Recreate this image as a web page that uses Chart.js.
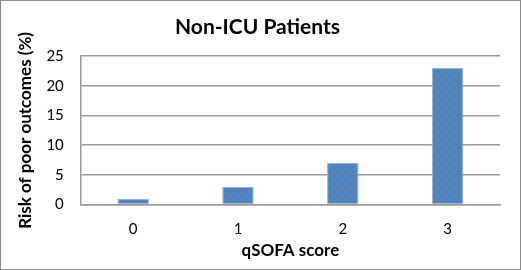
<!DOCTYPE html>
<html>
<head>
<meta charset="utf-8">
<script src="https://cdn.jsdelivr.net/npm/chart.js@4/dist/chart.umd.min.js"></script>
<style>
  body { margin: 0; background: #fff; }
  #wrap { width: 521px; height: 270px; box-sizing: border-box; border: 1px solid #8c8c8c; background: #fff; }
</style>
</head>
<body>
<div id="wrap"><canvas id="chart" width="519" height="268"></canvas></div>
<script>
// data
const SCORES = ['0', '1', '2', '3'];
const RISK = [1, 3, 7, 23];
const Y_TICKS = [0, 5, 10, 15, 20, 25];

const FONT = "Lato, 'Open Sans', sans-serif";

// sparse dotted fill like the original bars
function makePattern(ctx) {
    const p = document.createElement('canvas');
    p.width = 8; p.height = 8;
    const c = p.getContext('2d');
    c.fillStyle = '#4f86c2';
    c.fillRect(0, 0, 8, 8);
    c.fillStyle = 'rgba(110, 80, 60, 0.8)';
    c.fillRect(1, 2, 1, 1);
    c.fillRect(5, 6, 1, 1);
    return ctx.createPattern(p, 'repeat');
}

const ctx = document.getElementById('chart').getContext('2d');
new Chart(ctx, {
    type: 'bar',
    data: {
        labels: SCORES,
        datasets: [{
            data: RISK,
            backgroundColor: makePattern(ctx),
            borderColor: '#8fb3dc',
            borderWidth: 1,
            barPercentage: 0.3,
            categoryPercentage: 1
        }]
    },
    options: {
        responsive: false,
        animation: false,
        layout: { padding: { left: 14, right: 20, top: 4, bottom: 8 } },
        plugins: {
            legend: { display: false },
            tooltip: { enabled: false },
            title: {
                display: true,
                text: 'Non-ICU Patients',
                color: '#000',
                font: { family: FONT, size: 21, weight: 'bold' },
                padding: { top: 10, bottom: 16 }
            }
        },
        scales: {
            x: {
                grid: { display: false, drawTicks: false },
                border: { display: true, color: '#999', width: 1.5 },
                ticks: { color: '#000', font: { family: FONT, size: 15 }, padding: 16 },
                title: {
                    display: true,
                    text: 'qSOFA score',
                    color: '#000',
                    font: { family: FONT, size: 17, weight: 'bold' },
                    padding: { top: -14, bottom: 0 }
                }
            },
            y: {
                min: 0,
                max: 25,
                afterBuildTicks: axis => { axis.ticks = Y_TICKS.map(v => ({ value: v })); },
                grid: { color: '#999', lineWidth: 1.5, drawTicks: false },
                border: { display: true, color: '#999', width: 1.5 },
                ticks: { color: '#000', font: { family: FONT, size: 15 }, padding: 17 },
                title: {
                    display: true,
                    text: 'Risk of poor outcomes (%)',
                    color: '#000',
                    font: { family: FONT, size: 17, weight: 'bold' },
                    padding: { top: 0, bottom: -6 }
                }
            }
        }
    }
});
</script>
</body>
</html>
